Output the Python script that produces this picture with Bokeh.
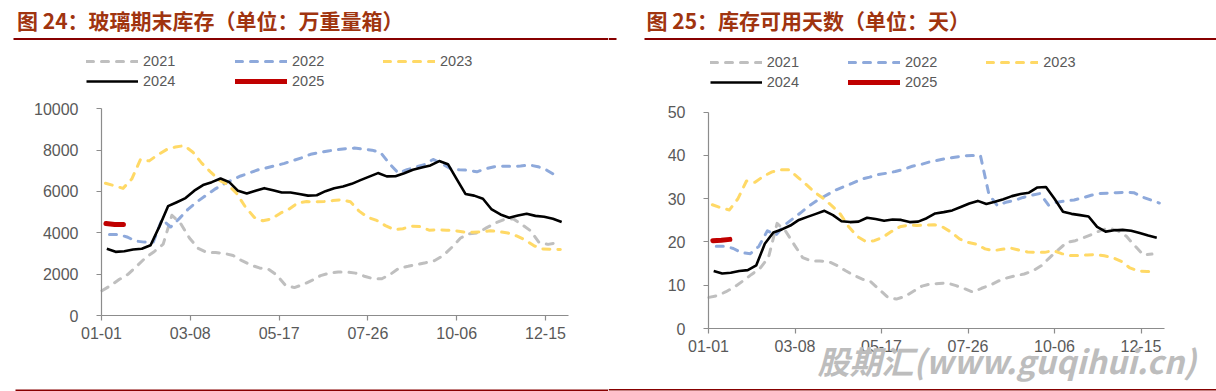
from bokeh.plotting import figure
from bokeh.layouts import row
from bokeh.models import Range1d, FixedTicker, Legend, LegendItem, Label, BoxAnnotation
from bokeh.embed import file_html
from bokeh.resources import INLINE

# ---------------- data ----------------
tick_pos = [0, 10, 20, 30, 40, 50]
tick_labels = ["01-01", "03-08", "05-17", "07-26", "10-06", "12-15"]
years = ["2021", "2022", "2023", "2024", "2025"]

# chart 24: glass inventory (10k weight boxes)
inv_2021 = [1200, 1450, 1750, 2000, 2400, 2800, 3100, 3450, 4850, 4450,
            3750, 3250, 3050, 3050, 3000, 2900, 2650, 2450, 2300, 2250,
            1950, 1450, 1350, 1500, 1700, 1930, 2050, 2100, 2100, 2050,
            1900, 1780, 1780, 2000, 2300, 2380, 2470, 2550, 2650, 2900,
            3300, 3750, 3950, 4000, 4250, 4480, 4650, 4680, 4400, 4100,
            3520, 3440, 3520]
inv_2022 = [3920, 3920, 3800, 3600, 3550, 3550, 4650, 4280, 4700, 5150,
            5500, 5800, 6100, 6350, 6560, 6750, 6900, 7050, 7150, 7250,
            7360, 7500, 7630, 7800, 7880, 7960, 8020, 8070, 8100, 8050,
            8000, 7880, 7350, 6900, 7050, 7180, 7300, 7550, 7350, 7100,
            7050, 7030, 6950, 7100, 7200, 7220, 7220, 7230, 7280, 7200,
            7030, 6780]
inv_2023 = [6400, 6280, 6150, 6600, 7550, 7480, 7780, 8030, 8150, 8220,
            7900, 7370, 6950, 6550, 6330, 5900, 5250, 4750, 4580, 4680,
            4950, 5150, 5450, 5510, 5500, 5520, 5560, 5600, 5500, 5050,
            4750, 4600, 4350, 4150, 4200, 4320, 4300, 4130, 4140, 4130,
            4100, 4040, 4030, 4050, 4100, 4060, 3990, 3850, 3650, 3370,
            3220, 3200, 3190]
inv_2024 = [3225, 3080, 3110, 3190, 3230, 3400, 4300, 5290, 5480, 5680,
            6040, 6310, 6450, 6630, 6450, 6030, 5900, 6030, 6160, 6060,
            5950, 5950, 5880, 5800, 5820, 6015, 6160, 6240, 6370, 6550,
            6720, 6890, 6730, 6740, 6880, 7050, 7160, 7260, 7470, 7320,
            6600, 5880, 5800, 5650, 5130, 4890, 4730, 4840, 4920, 4820,
            4780, 4680, 4520]
inv_2025 = [4450, 4400, 4400]

# chart 25: inventory days
days_2021 = [7.2, 7.6, 8.5, 9.6, 11.0, 12.5, 13.9, 16.5, 24.3, 22.5,
             19.4, 16.4, 15.6, 15.6, 15.5, 14.6, 13.4, 12.3, 11.4, 10.8,
             9.0, 7.2, 6.8, 7.4, 8.6, 9.8, 10.3, 10.4, 10.5, 9.9,
             9.2, 8.4, 9.3, 10.0, 11.0, 11.7, 12.2, 12.6, 13.3, 14.5,
             16.4, 18.2, 19.9, 20.3, 21.0, 21.8, 22.7, 23.2, 22.6, 21.3,
             19.1, 17.0, 17.2]
days_2022 = [19.0, 19.0, 18.5, 17.5, 17.3, 19.0, 22.6, 21.6, 23.9, 25.4,
             26.9, 28.5, 29.8, 30.9, 32.0, 32.8, 33.6, 34.5, 35.0, 35.6,
             35.9, 36.3, 36.8, 37.5, 37.9, 38.5, 38.9, 39.3, 39.6, 39.9,
             40.0, 40.0, 31.0, 28.4, 29.2, 29.6, 30.3, 30.8, 31.2, 28.5,
             29.2, 29.5, 29.7, 30.2, 30.8, 31.2, 31.3, 31.4, 31.5, 31.4,
             30.4, 29.7, 29.0]
days_2023 = [28.6, 27.9, 27.4, 30.0, 34.1, 33.8, 35.2, 36.2, 36.7, 36.7,
             35.0, 33.3, 31.5, 30.1, 28.4, 26.5, 23.5, 21.3, 20.1, 20.3,
             21.1, 22.4, 23.5, 23.9, 23.8, 23.9, 24.0, 23.5, 22.3, 20.7,
             19.9, 19.5, 18.4, 18.0, 18.3, 18.6, 18.1, 17.7, 17.6, 17.6,
             18.0, 17.3, 16.9, 16.9, 17.0, 17.1, 16.8, 16.4, 15.5, 14.0,
             13.3, 13.2, 13.2]
days_2024 = [13.3, 12.7, 12.9, 13.3, 13.5, 14.6, 19.6, 22.2, 22.9, 23.8,
             25.1, 25.8, 26.5, 27.2, 26.2, 24.8, 24.6, 24.7, 25.6, 25.3,
             24.9, 25.2, 25.1, 24.6, 24.7, 25.5, 26.6, 26.9, 27.3, 28.1,
             28.9, 29.5, 28.8, 29.3, 29.9, 30.6, 31.1, 31.4, 32.6, 32.7,
             30.0, 27.0, 26.5, 26.2, 25.9, 23.5, 22.4, 22.7, 22.8, 22.6,
             22.1, 21.5, 21.0]
days_2025 = [20.3, 20.4, 20.6]

# ---------------- styling ----------------
COLORS = {"2021": "#BFBFBF", "2022": "#8EA9DB", "2023": "#FFD966",
          "2024": "#000000", "2025": "#C00000"}
START = {"2021": 0.05, "2022": 0.9, "2023": 0.45, "2024": 0.6, "2025": 0.5}
STEP = 0.985
TITLE_COLOR = "#A0340F"
RULE_COLOR = "#870000"
TEXT_COLOR = "#595959"
AXIS_COLOR = "#8C8C8C"
W, H = 608, 391


def xs_for(year, n):
    return [START[year] + STEP * i for i in range(n)]


def make_panel(title, data, y_top, y_step, axis_px, px_per_x, px_per_y, x_axis_end,
               title_xy, legend_xy, rules, watermark=None):
    ax_x, ax_y = axis_px  # canvas pixel position of data origin (x from left, y from top)
    x_range = Range1d(-ax_x / px_per_x, (W - ax_x) / px_per_x)
    y_range = Range1d(-(H - ax_y) / px_per_y, ax_y / px_per_y)
    p = figure(width=W, height=H, output_backend="svg", toolbar_location=None,
               title=None, x_range=x_range, y_range=y_range,
               min_border=0, min_border_left=0, min_border_right=0,
               min_border_top=0, min_border_bottom=0)
    p.outline_line_color = None
    p.background_fill_color = "white"
    p.border_fill_color = "white"
    p.xgrid.visible = False
    p.ygrid.visible = False

    renderers = {}
    for year in years:
        vals = data[year]
        xs = xs_for(year, len(vals))
        if year in ("2021", "2022", "2023"):
            r = p.line(xs, vals, line_color=COLORS[year], line_width=3,
                       line_dash="7 8", line_cap="round", line_join="round")
        elif year == "2024":
            r = p.line(xs, vals, line_color=COLORS[year], line_width=2.6,
                       line_join="round")
        else:
            r = p.line(xs, vals, line_color=COLORS[year], line_width=5,
                       line_cap="round", line_join="round")
        renderers[year] = r

    for ax in (p.xaxis[0], p.yaxis[0]):
        ax.fixed_location = 0
        ax.axis_line_color = AXIS_COLOR
        ax.axis_line_width = 1.2
        ax.major_tick_line_color = AXIS_COLOR
        ax.major_tick_line_width = 1.2
        ax.major_tick_in = 0
        ax.major_tick_out = 5
        ax.minor_tick_line_color = None
        ax.major_label_text_font = "Liberation Sans"
        ax.major_label_text_font_size = "16px"
        ax.major_label_text_color = TEXT_COLOR
    p.xaxis.bounds = (0, x_axis_end)
    p.xaxis.ticker = FixedTicker(ticks=tick_pos)
    p.xaxis.major_label_overrides = {t: l for t, l in zip(tick_pos, tick_labels)}
    p.xaxis.major_label_standoff = 6
    p.yaxis.bounds = (0, y_top)
    p.yaxis.ticker = FixedTicker(ticks=list(range(0, y_top + 1, y_step)))
    p.yaxis.major_label_standoff = 18

    # rules (canvas px: left, right, top_y, bottom_y measured from top)
    for (l, r_, t, b) in rules:
        p.add_layout(BoxAnnotation(left=l, right=r_, bottom=H - b, top=H - t,
                                   left_units="screen", right_units="screen",
                                   bottom_units="screen", top_units="screen",
                                   fill_color=RULE_COLOR, fill_alpha=1.0,
                                   line_alpha=0, level="overlay"))
    # title
    p.add_layout(Label(x=title_xy[0], y=H - title_xy[1], x_units="screen", y_units="screen",
                       text=title, text_font="Noto Sans CJK SC", text_font_style="bold",
                       text_font_size="21px", text_color=TITLE_COLOR,
                       text_baseline="middle", text_align="left"))
    # legends (one per item); legend_xy = glyph left x, glyph centre y (from top)
    for year in years:
        lx, cy = legend_xy[year]
        lg = Legend(items=[LegendItem(label=year, renderers=[renderers[year]])],
                    location=(lx, H - cy - 8), orientation="vertical", padding=0,
                    margin=0, spacing=0, border_line_alpha=0, background_fill_alpha=0,
                    glyph_width=52, glyph_height=16, label_height=16,
                    label_standoff=5, label_text_font="Liberation Sans",
                    label_text_font_size="14.5px", label_text_color=TEXT_COLOR)
        p.add_layout(lg)

    if watermark:
        p.add_layout(Label(x=watermark[0], y=H - watermark[1], x_units="screen",
                           y_units="screen", text=watermark[2],
                           text_font="Noto Sans CJK SC", text_font_style="bold italic",
                           text_font_size="32px", text_color="#BDBDBD",
                           text_baseline="middle", text_align="left"))
    return p


data24 = {"2021": inv_2021, "2022": inv_2022, "2023": inv_2023,
          "2024": inv_2024, "2025": inv_2025}
data25 = {"2021": days_2021, "2022": days_2022, "2023": days_2023,
          "2024": days_2024, "2025": days_2025}

p1 = make_panel("图 24：玻璃期末库存（单位：万重量箱）", data24, 10000, 2000,
                (101, 315), 8.88, 206.7 / 10000, 52.6, (16.5, 19.7),
                {"2021": (86, 60.7), "2022": (235, 60.7), "2023": (383, 60.7),
                 "2024": (86, 81), "2025": (235, 81)},
                [(13, 608, 37.5, 39.5), (15, 608, 389, 390.5)])

p2 = make_panel("图 25：库存可用天数（单位：天）", data25, 50, 10,
                (100, 328), 8.65, 216.3 / 50, 52.7, (38, 19.7),
                {"2021": (101.7, 61.7), "2022": (240, 61.7), "2023": (378.3, 61.7),
                 "2024": (101.7, 82.3), "2025": (240, 82.3)},
                [(0, 8, 37.5, 39.5), (36, 608, 37.5, 39.5), (0, 608, 388.5, 390)],
                watermark=(209, 359, "股期汇(www.guqihui.cn)"))

layout = row(p1, p2)
open("out.html", "w").write(file_html(layout, INLINE))
